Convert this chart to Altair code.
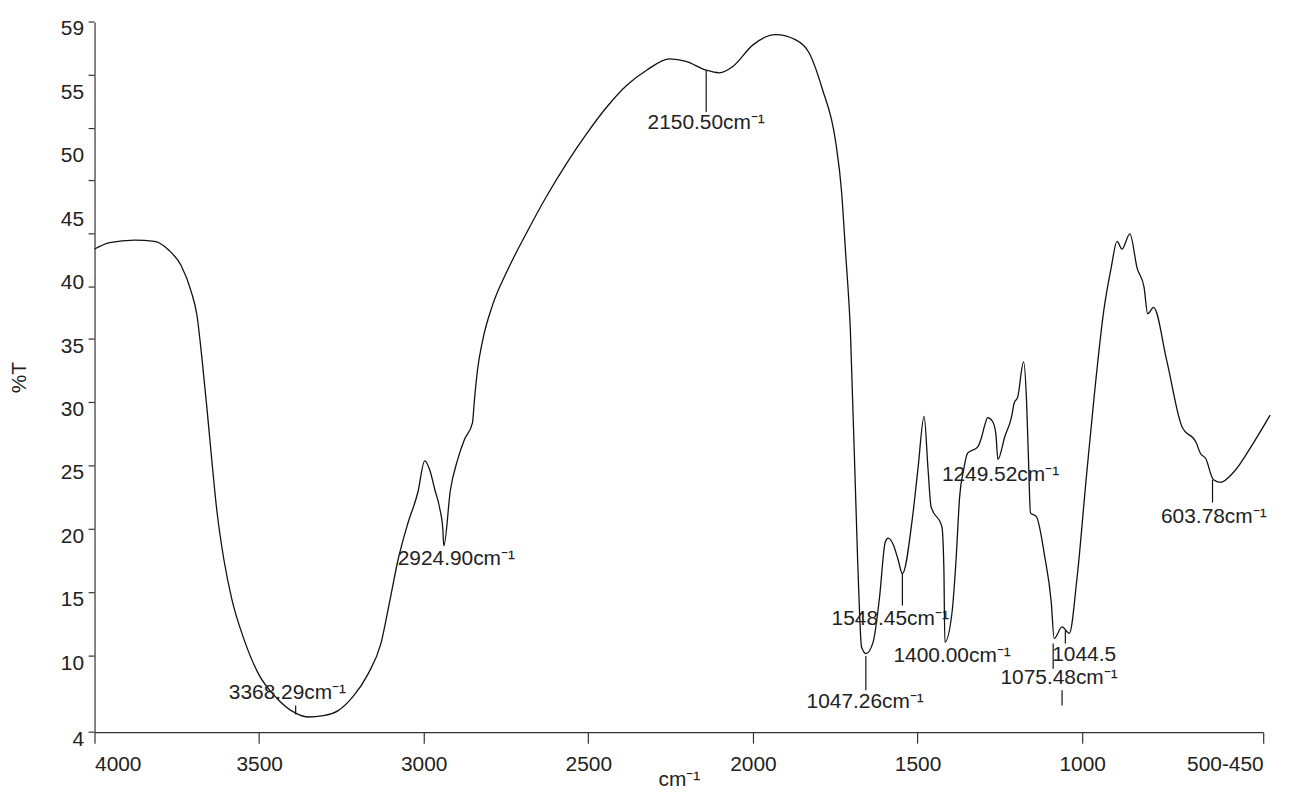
import altair as alt
import pandas as pd

# IR spectrum (wavenumber in cm-1, transmittance in %T)
wavenumber = [4000, 3954, 3879, 3818, 3774, 3737, 3707, 3689, 3673, 3658, 3644, 3629, 3607, 3583,
              3547, 3502, 3447, 3389, 3351, 3305, 3260, 3215, 3169, 3130, 3102, 3078, 3049, 3018,
              2997, 2982, 2966, 2951, 2942, 2939, 2919, 2897, 2876, 2852, 2846, 2837, 2821, 2792,
              2746, 2685, 2626, 2565, 2505, 2444, 2384, 2323, 2253, 2203, 2142, 2102, 2061, 2000,
              1931, 1870, 1830, 1789, 1749, 1731, 1719, 1704, 1682, 1670, 1656, 1635, 1616, 1598,
              1589, 1574, 1559, 1546, 1516, 1499, 1480, 1468, 1459, 1426, 1420, 1417, 1395, 1383,
              1372, 1360, 1348, 1317, 1305, 1296, 1287, 1272, 1262, 1256, 1235, 1215, 1206, 1196,
              1178, 1169, 1163, 1157, 1139, 1114, 1094, 1085, 1061, 1039, 1015, 988, 963, 934,
              912, 894, 879, 855, 833, 812, 801, 783, 743, 697, 653, 641, 625, 601, 580, 540, 480, 429]
transmittance = [42.1, 42.6, 42.8, 42.7, 42.0, 40.8, 38.8, 36.9, 33.3, 29.4, 25.5, 21.6, 17.6, 14.5,
                 11.4, 8.6, 6.7, 5.5, 5.2, 5.3, 5.7, 6.8, 8.6, 11.0, 14.5, 17.6, 20.4, 22.9,
                 25.4, 24.7, 23.1, 21.6, 20.0, 18.7, 23.1, 25.5, 27.1, 28.4, 30.2, 32.5, 34.9, 37.6,
                 40.4, 43.5, 46.3, 48.9, 51.2, 53.3, 55.0, 56.2, 57.1, 56.9, 56.2, 56.0, 56.5, 58.2,
                 59.0, 58.6, 57.6, 54.7, 50.6, 46.7, 42.0, 35.7, 17.6, 10.7, 10.2, 11.1, 14.5, 19.0,
                 19.3, 18.8, 17.6, 16.5, 20.8, 24.7, 28.9, 24.7, 21.8, 20.2, 16.9, 11.1, 13.5, 17.6,
                 22.6, 24.7, 26.0, 26.5, 27.3, 28.2, 28.8, 28.5, 27.5, 25.5, 27.3, 28.8, 30.0, 30.4,
                 33.2, 30.2, 25.5, 21.3, 21.0, 17.9, 14.3, 11.4, 12.3, 11.8, 16.3, 23.9, 30.6, 37.3,
                 40.6, 42.7, 42.1, 43.3, 40.6, 39.1, 37.0, 37.5, 33.3, 28.1, 26.8, 26.0, 25.6, 23.9,
                 23.7, 24.5, 26.8, 29.0]

# peak annotations: text and where it sits
peak_text = ["2150.50cm⁻¹", "3368.29cm⁻¹", "2924.90cm⁻¹", "1047.26cm⁻¹", "1548.45cm⁻¹",
             "1400.00cm⁻¹", "1249.52cm⁻¹", "1075.48cm⁻¹", "1044.5", "603.78cm⁻¹"]
peak_text_x = [2142, 3414, 2901, 1659, 1583, 1395, 1248, 1070, 994, 600]
peak_text_y = [52.0, 7.1, 17.65, 6.4, 12.9, 10.0, 24.3, 8.27, 10.12, 21.0]

# short vertical marker lines of the annotations
marker_x = [2142, 3389, 1657, 1546, 1088, 1051, 1061, 604]
marker_y1 = [56.2, 6.1, 10.0, 16.5, 11.0, 12.0, 7.3, 23.9]
marker_y2 = [52.9, 5.4, 7.3, 14.0, 9.0, 11.0, 6.1, 22.1]

# axis ticks and labels (the y tick marks of the original do not all sit at the labels)
x_ticks = [4000, 3500, 3000, 2500, 2000, 1500, 1000, 450]
y_label_values = [4, 10, 15, 20, 25, 30, 35, 40, 45, 50, 55, 60]
y_tick_marks = [4, 10, 15, 20, 25, 30, 35, 39.1, 43.3, 47.5, 51.6, 55.8, 60]

spec_df = pd.DataFrame({"w": wavenumber, "t": transmittance})
text_df = pd.DataFrame({"label": peak_text, "w": peak_text_x, "t": peak_text_y})
mark_df = pd.DataFrame({"w": marker_x, "t": marker_y1, "t2": marker_y2})
ytick_df = pd.DataFrame({"t": y_tick_marks})

FONT = "Liberation Sans"
INK = "#333333"

x_scale = alt.Scale(domain=[4000, 450], nice=False, zero=False)
y_scale = alt.Scale(domain=[4, 60], nice=False, zero=False)

x_axis = alt.Axis(values=x_ticks, format="d", title="cm⁻¹",
                  labelExpr="datum.value == 450 ? '500-450' : datum.label",
                  tickSize=11, labelPadding=11, titlePadding=-6)
y_axis = alt.Axis(values=y_label_values, title="%T",
                  labelExpr="datum.value == 60 ? '59' : datum.label",
                  tickSize=6, tickOpacity=0, labelPadding=5, labelOffset=7,
                  titlePadding=31)

line = alt.Chart(spec_df).mark_line(color="#111111", strokeWidth=1.3,
                                    interpolate="monotone").encode(
    x=alt.X("w:Q", scale=x_scale, axis=x_axis),
    y=alt.Y("t:Q", scale=y_scale, axis=y_axis),
    order=alt.Order("w:Q", sort="descending"),
)

yticks = alt.Chart(ytick_df).mark_rule(color=INK, strokeWidth=1.2).encode(
    x=alt.value(-6), x2=alt.value(0),
    y=alt.Y("t:Q", scale=y_scale),
)

markers = alt.Chart(mark_df).mark_rule(color="#111111", strokeWidth=1.2).encode(
    x=alt.X("w:Q", scale=x_scale),
    y=alt.Y("t:Q", scale=y_scale),
    y2="t2:Q",
)

texts = alt.Chart(text_df).mark_text(font=FONT, fontSize=21, color="#222222",
                                     align="center", baseline="middle").encode(
    x=alt.X("w:Q", scale=x_scale),
    y=alt.Y("t:Q", scale=y_scale),
    text="label:N",
)

chart = alt.layer(line, yticks, markers, texts).properties(
    width=1175, height=714,
    autosize=alt.AutoSizeParams(type="none"),
    padding={"left": 87, "top": 12, "right": 38, "bottom": 58},
).configure_view(stroke=None).configure_axis(
    grid=False, domainColor=INK, tickColor=INK, labelColor="#222222",
    titleColor="#222222", labelFont=FONT, titleFont=FONT, labelFontSize=21,
    titleFontSize=21, titleFontWeight="normal", domainWidth=1.2, tickWidth=1.2,
)

chart.save("out.html", embed_options={"renderer": "svg", "actions": False})
